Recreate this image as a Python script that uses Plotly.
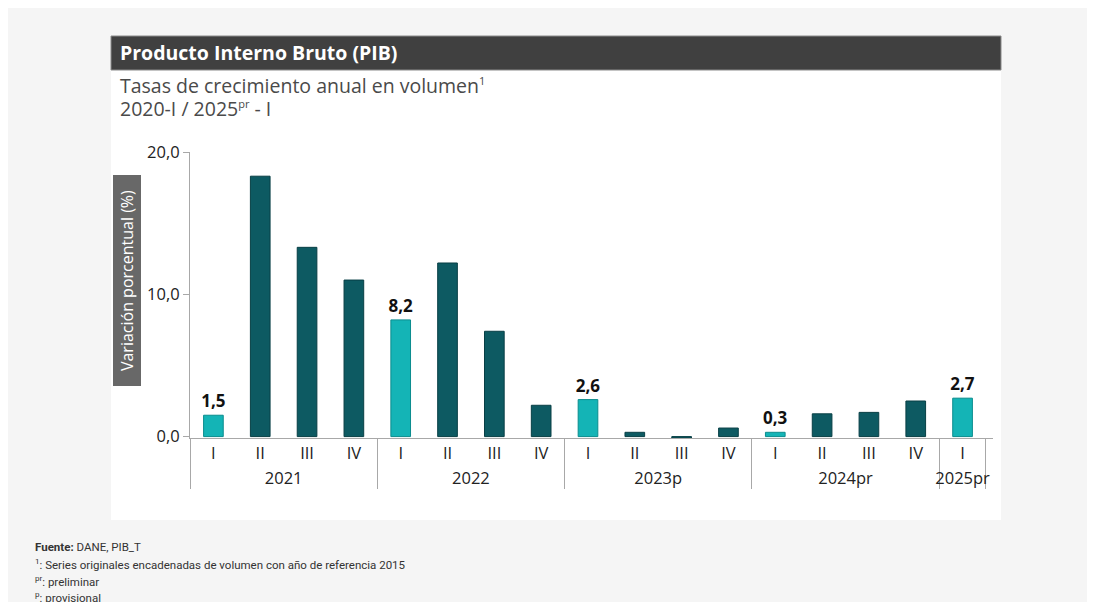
import plotly.graph_objects as go

W, H = 1110, 602
OFF = 8  # page body margin in the screenshot

years = ["2021"] * 4 + ["2022"] * 4 + ["2023p"] * 4 + ["2024pr"] * 4 + ["2025pr"]
quarters = ["I", "II", "III", "IV"] * 4 + ["I"]
values = [1.5, 18.3, 13.3, 11.0, 8.2, 12.2, 7.4, 2.2, 2.6, 0.3, -0.1, 0.6, 0.3, 1.6, 1.7, 2.5, 2.7]
y_ticks = [0, 10, 20]

teal_light = "#14b4b6"
teal_dark = "#0d5a62"
colors = [teal_light if q == "I" else teal_dark for q in quarters]
line_colors = ["#0b8c8e" if q == "I" else "#083f45" for q in quarters]
labels = [("%.1f" % v).replace(".", ",") if q == "I" else None for v, q in zip(values, quarters)]

# plot area in screenshot pixels
L, R, T, B = 190 - OFF, 993 - OFF, 152 - OFF, 438 - OFF


def px(x):
    return (x - OFF - L) / (R - L)


def py(y):
    return (B - (y - OFF)) / (B - T)


fig = go.Figure()
fig.add_trace(go.Bar(
    x=[years, quarters],
    y=values,
    marker=dict(color=colors, line=dict(color=line_colors, width=1)),
    width=0.42,
    text=labels,
    textposition="outside",
    constraintext="none",
    textfont=dict(family="Open Sans", size=17, color="#111111", weight="bold"),
    cliponaxis=False,
    hoverinfo="skip",
))

shapes = [
    dict(type="rect", xref="paper", yref="paper", x0=px(111), x1=px(1001), y0=py(520), y1=py(70),
         fillcolor="white", line=dict(width=0), layer="below"),
    dict(type="rect", xref="paper", yref="paper", x0=px(111), x1=px(1001), y0=py(70), y1=py(36),
         fillcolor="#404040", line=dict(color="#8a8a8a", width=1), layer="below"),
]

foot_font = dict(family="Roboto", size=11.5, color="#333333")
sub_font = dict(family="Open Sans", size=19.5, color="#4a4a4a")
annotations = [
    dict(text="<b>Producto Interno Bruto (PIB)</b>", xref="paper", yref="paper", x=px(118), y=py(53),
         xanchor="left", yanchor="middle", showarrow=False,
         font=dict(family="Open Sans", size=19.5, color="white")),
    dict(text="Tasas de crecimiento anual en volumen<sup><span style='font-size:11px'>1</span></sup>",
         xref="paper", yref="paper", x=px(118), y=py(85),
         xanchor="left", yanchor="middle", showarrow=False, font=sub_font),
    dict(text="2020-I / 2025<sup><span style='font-size:11px'>pr</span></sup> - I",
         xref="paper", yref="paper", x=px(118), y=py(109),
         xanchor="left", yanchor="middle", showarrow=False, font=sub_font),
    dict(text="Variación porcentual (%)", xref="paper", yref="paper", x=px(126.5), y=py(281),
         xanchor="center", yanchor="middle", showarrow=False, textangle=-90,
         bgcolor="#686868", borderpad=4, width=202, height=19,
         font=dict(family="Open Sans", size=16, color="white")),
    dict(text="<b>Fuente:</b> DANE, PIB_T", xref="paper", yref="paper", x=px(33), y=py(547),
         xanchor="left", yanchor="middle", showarrow=False, font=foot_font),
    dict(text="<sup>1</sup>: Series originales encadenadas de volumen con año de referencia 2015", xref="paper",
         yref="paper", x=px(33), y=py(564), xanchor="left", yanchor="middle", showarrow=False, font=foot_font),
    dict(text="<sup>pr</sup>: preliminar", xref="paper", yref="paper", x=px(33), y=py(581),
         xanchor="left", yanchor="middle", showarrow=False, font=foot_font),
    dict(text="<sup>p</sup>: provisional", xref="paper", yref="paper", x=px(33), y=py(597),
         xanchor="left", yanchor="middle", showarrow=False, font=foot_font),
]

fig.update_layout(
    width=W, height=H,
    margin=dict(l=L, r=W - R, t=T, b=H - B, pad=0),
    paper_bgcolor="#f5f5f5",
    plot_bgcolor="rgba(0,0,0,0)",
    separators=",.",
    showlegend=False,
    shapes=shapes,
    annotations=annotations,
    font=dict(family="Open Sans", color="#222222"),
)

fig.update_xaxes(
    type="multicategory",
    showline=True, linecolor="#a8a8a8", linewidth=1,
    showdividers=True, dividercolor="#a8a8a8", dividerwidth=1,
    ticks="", showgrid=False,
    tickfont=dict(family="Open Sans", size=16.5, color="#222222"),
    range=[-0.5, 16.65],
)
fig.update_yaxes(
    range=[-0.1, 20],
    tickvals=y_ticks,
    tickformat=".1f",
    showline=True, linecolor="#a8a8a8", linewidth=1,
    ticks="outside", ticklen=6, tickcolor="#a8a8a8",
    showgrid=False, zeroline=False,
    tickfont=dict(family="Open Sans", size=16.5, color="#222222"),
)

fig.write_html("out.html")
